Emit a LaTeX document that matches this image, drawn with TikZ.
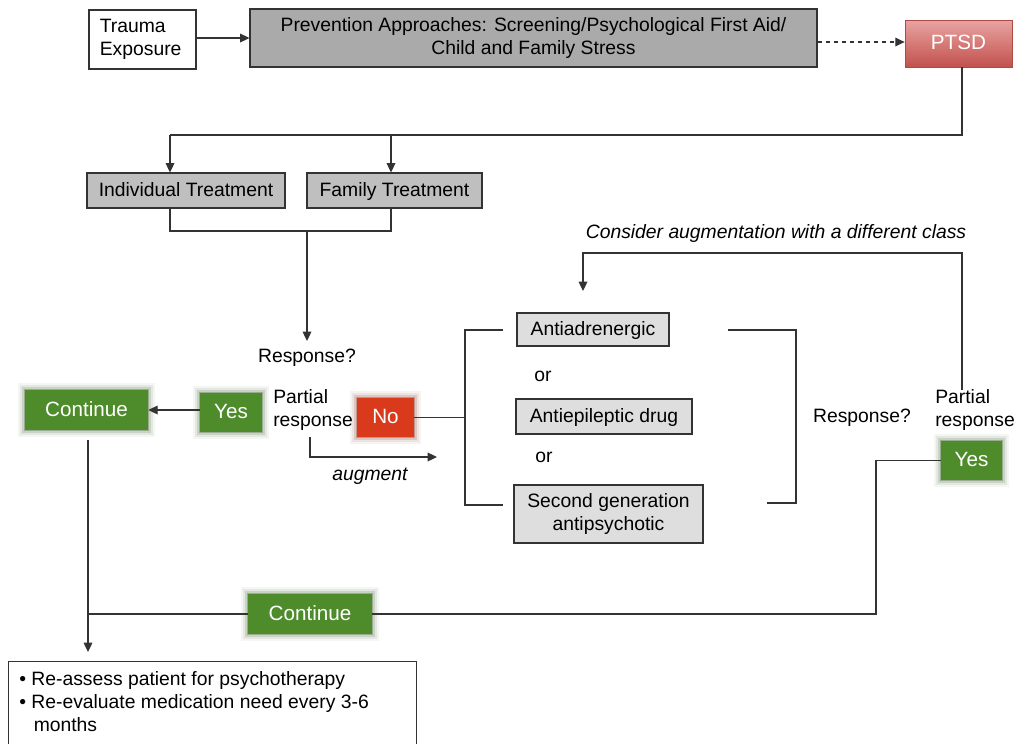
\documentclass[tikz,border=0pt]{standalone}
\usepackage{fontspec}
\setmainfont{Liberation Sans}
\usetikzlibrary{arrows.meta}
\definecolor{gDark}{HTML}{AAAAAA}
\definecolor{gMid}{HTML}{BFBFBF}
\definecolor{gLight}{HTML}{DEDEDE}
\definecolor{okGreen}{HTML}{4E8C2B}
\definecolor{noRed}{HTML}{D83A1B}
\definecolor{ptTop}{HTML}{E8A4A2}
\definecolor{ptBot}{HTML}{C2514D}
\definecolor{lineC}{HTML}{333333}
\begin{document}
\begin{tikzpicture}[x=0.75pt,y=-0.75pt,
  every node/.style={font=\fontsize{14.5}{17.3}\selectfont, inner sep=0pt},
  one/.style={text height=0.9em, text depth=0pt},
  box/.style={draw=lineC, line width=0.8pt, align=center},
  glow/.style={preaction={draw=#1!50!black, line width=10pt, opacity=0.05, rounded corners=5pt},
               preaction={draw=#1!50!black, line width=7pt, opacity=0.08, rounded corners=3.5pt},
               preaction={draw=#1!50!black, line width=4pt, opacity=0.14, rounded corners=2pt},
               preaction={draw=#1!60!black, line width=1.5pt, opacity=0.3, rounded corners=1pt}},
  gbox/.style={fill=okGreen, text=white, font=\fontsize{15.5}{18}\selectfont, glow=okGreen, one},
  conn/.style={draw=lineC, line width=0.9pt},
  arr/.style={conn, -{Triangle[length=7pt,width=6.5pt]}},
  lab/.style={align=left},
]
\useasboundingbox (0,0) rectangle (1014,743);
% top row
\node[box, fill=white, minimum width=80.25pt, minimum height=44.25pt, text width=64pt, align=left] (trauma) at (142.5,39.5) {Trauma\\Exposure};
\node[box, fill=gDark, minimum width=425.25pt, minimum height=43.5pt] (prev) at (533.5,38) {Prevention Approaches: Screening/Psychological First Aid/\\Child and Family Stress};
\node[draw=ptBot!90!black, line width=0.6pt, top color=ptTop, bottom color=ptBot, text=white, font=\fontsize{15.5}{18}\selectfont, one, minimum width=80.25pt, minimum height=35.25pt] (ptsd) at (958.5,43.5) {PTSD};
\draw[arr] (trauma.east |- 0,38) -- (prev.west |- 0,38);
\draw[arr, dashed] (prev.east |- 0,42) -- (ptsd.west |- 0,42);
% treatments
\node[box, fill=gMid, one, minimum width=148.5pt, minimum height=26.25pt] (ind) at (186,190.5) {Individual Treatment};
\node[box, fill=gMid, one, minimum width=131.25pt, minimum height=26.25pt] (fam) at (394.5,190.5) {Family Treatment};
\coordinate (ja) at (170,135);
\coordinate (jb) at (391,135);
\draw[conn] (ptsd.south -| 962,0) |- (ja);
\draw[arr] (ja) -- (ja |- ind.north);
\draw[arr] (jb) -- (jb |- fam.north);
\coordinate (jc) at (170,231);
\coordinate (jd) at (391,231);
\coordinate (je) at (307,231);
\draw[conn] (ind.south -| jc) -- (jc) -- (jd) -- (fam.south -| jd);
\node (resp1) at (307,358) {Response?};
\draw[arr] (je) -- (307,341);
% left decision
\node[gbox, minimum width=92.25pt, minimum height=30pt] (cont1) at (86.5,410) {Continue};
\node[gbox, minimum width=46.5pt, minimum height=29.25pt] (yes1) at (231,412.5) {Yes};
\node[lab, anchor=west] (part1) at (273,410) {Partial\\response};
\node[fill=noRed, text=white, font=\fontsize{15.5}{18}\selectfont, one, glow=noRed, minimum width=42.75pt, minimum height=29.25pt] (no) at (385.5,417.5) {No};
\draw[arr] (yes1.west |- cont1) -- (cont1.east);
% augment
\coordinate (ag) at (310,457);
\draw[arr] (310,437) -- (ag) -- (437,457);
\node[font=\fontsize{14.5}{17.3}\selectfont\itshape] (augm) at (370,476) {augment};
% bracket left
\coordinate (bl1) at (465,330);
\coordinate (bl2) at (465,505);
\draw[conn] (no.east) -- (no.east -| bl1);
\draw[conn] (503,330) -- (bl1) -- (bl2) -- (503,505);
% drugs
\node[box, fill=gLight, one, minimum width=114pt, minimum height=24.75pt] (d1) at (593,329.5) {Antiadrenergic};
\node (or1) at (543,376) {or};
\node[box, fill=gLight, one, minimum width=132pt, minimum height=26.25pt] (d2) at (604,416.5) {Antiepileptic drug};
\node (or2) at (544,457) {or};
\node[box, fill=gLight, minimum width=141.75pt, minimum height=43.5pt] (d3) at (608.5,514) {Second generation\\antipsychotic};
% bracket right
\coordinate (br1) at (796,330);
\coordinate (br2) at (796,503);
\draw[conn] (728,330) -- (br1) -- (br2) -- (767,503);
\node (resp2) at (862,418) {Response?};
\node[lab, anchor=west] (part2) at (935,410) {Partial\\response};
\node[gbox, minimum width=45.75pt, minimum height=29.25pt] (yes2) at (971.5,460.5) {Yes};
% consider loop
\coordinate (ca) at (962,253);
\coordinate (cb) at (583,253);
\node[font=\fontsize{14.5}{17.3}\selectfont\itshape] (cons) at (776,233) {Consider augmentation with a different class};
\draw[arr] (962,390) -- (ca) -- (cb) -- (583,291);
% continue 2
\node[gbox, minimum width=93pt, minimum height=30pt] (cont2) at (310,614) {Continue};
\coordinate (cc) at (876,614);
\coordinate (cd) at (88,614);
\draw[conn] (yes2.west) -| (cc) -- (cont2.east);
\draw[conn] (cont2.west) -- (cd);
\draw[arr] (88,440) -- (88,652);
% bottom box
\node[box, fill=white, anchor=north west, minimum width=306pt, minimum height=80pt] (final) at (8,661) {};
\node[anchor=north west, align=left] (finaltext) at (19,671) {\textbullet\ Re-assess patient for psychotherapy\\\textbullet\ Re-evaluate medication need every 3-6\\\hspace*{0.75em}months};
\end{tikzpicture}
\end{document}
